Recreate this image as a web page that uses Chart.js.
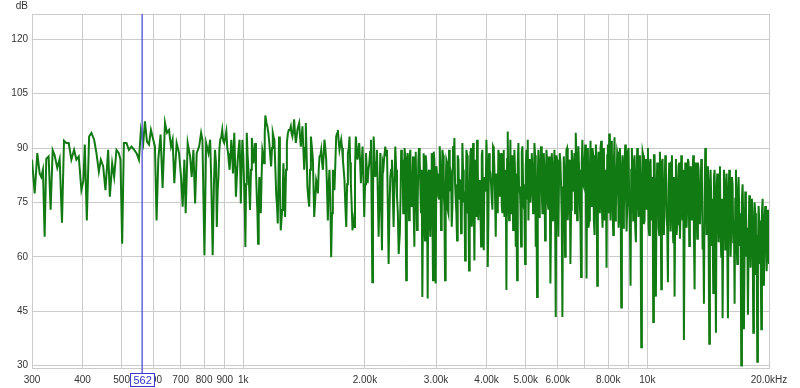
<!DOCTYPE html>
<html>
<head>
<meta charset="utf-8">
<script src="https://cdn.jsdelivr.net/npm/chart.js@4.4.1/dist/chart.umd.min.js"></script>
<style>
    html, body { margin: 0; padding: 0; background: #fff; }
    #wrap { width: 800px; height: 388px; }
</style>
</head>
<body>
<div id="wrap"><canvas id="spl" width="800" height="388"></canvas></div>
<script>
// Axis ticks
const xGrid = [300, 400, 500, 600, 700, 800, 900, 1000, 2000, 3000, 4000, 5000, 6000, 7000, 8000, 9000, 10000, 20000];
const xTickLabels = ['300', '400', '500', '600', '700', '800', '900', '1k', '2.00k', '3.00k', '4.00k', '5.00k', '6.00k', '', '8.00k', '', '10k', '20.0kHz'];
const yTicks = [30, 45, 60, 75, 90, 105, 120];
const cursorFreq = 562;

const freqA = [300, 304.6, 309.2, 313.4, 316.3, 319.3, 322.4, 325.4, 329.8, 333.6,
    337.5, 341.3, 346.5, 351.2, 355.9, 360, 364.8, 369.8, 375.4, 381.3,
    386.3, 391.6, 397.5, 402.1, 405.3, 410, 415.4, 420.9, 427.5, 433.1,
    439.1, 444.1, 450, 455.9, 463, 467.5, 473.7, 479.1, 485.4, 492.1,
    496.6, 501.5, 506.4, 514, 521.1, 528.9, 537.1, 544.3, 551.8, 558.1,
    565.5, 571, 577.6, 584.2, 590.9, 598.7, 604.5, 610.1, 616.1, 624.2,
    631.4, 640.1, 647.5, 654.9, 662.4, 668.5, 675, 684, 693.5, 701.4,
    707.9, 714.8, 720.1, 728.4, 738.5, 745.3, 752.6, 759.9, 766.9, 777.5,
    786.4, 792.3, 801.4, 809.2, 819.9, 828, 832.7];
const dbA = [86.8, 77.5, 88.6, 83, 82, 84, 65.5, 87, 87.7, 73,
    89.4, 88, 84.5, 87, 69.4, 92, 91.4, 91.4, 86.8, 89.5,
    86.8, 87.7, 78.4, 81, 91, 70, 93.2, 94.2, 92.3, 88.6,
    83.5, 86.8, 85, 78.4, 89.5, 76.6, 85.8, 82, 89.5, 88.6,
    86.8, 63.6, 91.4, 91.4, 89.5, 90.4, 89.5, 88.6, 86.8, 95,
    91.4, 97.4, 91.8, 91, 95, 92.3, 90.4, 70, 86.8, 93.7,
    79, 97, 94.2, 95, 90.4, 92.3, 80.3, 91.4, 88.6, 82,
    73.8, 86.8, 72, 91.4, 87.7, 82, 89.5, 74.7, 88.6, 90.4,
    94.2, 92.3, 60.4, 91.4, 88.6, 92.3, 82];

const freqB = [840, 851, 860, 868, 877, 887, 897, 908, 917, 925,
    934, 943, 950, 959, 969, 979, 986, 995, 1005, 1012,
    1020, 1030, 1039, 1050, 1059, 1070, 1080, 1088, 1096, 1105,
    1115, 1126, 1134, 1147, 1160, 1172, 1183, 1194, 1206, 1217,
    1226, 1238, 1248, 1257, 1269, 1282, 1296, 1311, 1323, 1336,
    1349, 1361, 1375, 1388, 1401, 1415, 1428, 1441, 1456, 1470,
    1487, 1498, 1515, 1530, 1544, 1559, 1574, 1588, 1604, 1619,
    1634, 1650, 1666, 1681, 1698, 1714, 1730, 1747, 1764, 1780,
    1798, 1815, 1832, 1846, 1863, 1881, 1899, 1917, 1936, 1955,
    1973, 1992, 2012, 2031, 2050, 2070, 2086, 2102, 2122, 2142,
    2162, 2183, 2204, 2224, 2246, 2268, 2289, 2311, 2333, 2355,
    2378, 2401, 2424];
const dbB = [60.4, 89.5, 68.2, 82, 92.3, 95, 91.4, 94.6, 88.6, 84,
    92.3, 83, 94.2, 76.6, 86.8, 92.3, 74.7, 92.3, 79.4, 62.7,
    94.2, 84, 72.9, 92.8, 85.8, 91.4, 76.6, 63.6, 82, 72,
    89.5, 85.8, 99, 96, 91.4, 84.9, 94.2, 92.3, 77.5, 69.2,
    93.2, 67.3, 72.9, 85.8, 71, 91.4, 95, 96, 93.2, 97.9,
    91.4, 95, 96.9, 90.4, 96, 84, 96.9, 79.4, 73.8, 93.2,
    86.8, 71, 81.2, 77.5, 87.7, 89.5, 84, 92.3, 86.8, 70,
    84, 59.9, 84, 78.4, 93.2, 95, 89.5, 92.3, 86.8, 81.2,
    68.2, 88.6, 93.2, 80.3, 67.3, 68.2, 93.2, 86.8, 91.4, 80.3,
    90.4, 71, 88.6, 80.3, 85.8, 92.3, 53, 93.2, 82, 89.5,
    65.5, 88.6, 61.8, 84.9, 90.4, 89.5, 58, 82, 86.8, 68.2,
    90.4, 76.6, 60.8];
// in-between readings of the same stretch
const freqB2 = [846, 856, 864, 873, 882, 892, 903, 913, 921, 930,
    939, 947, 955, 964, 974, 983, 991, 1000, 1009, 1016,
    1025, 1035, 1045, 1055, 1065, 1075, 1084, 1092, 1101, 1110,
    1121, 1130, 1141, 1154, 1166, 1178, 1189, 1200, 1212, 1222,
    1232, 1243, 1253, 1263, 1276, 1289, 1304, 1317, 1330, 1343,
    1355, 1368, 1382, 1395, 1408, 1422, 1435, 1449, 1463, 1479,
    1493, 1507, 1523, 1537, 1552, 1567, 1581, 1596, 1612, 1627,
    1642, 1658, 1674, 1690, 1706, 1722, 1739, 1756, 1772, 1789,
    1807, 1824, 1839, 1855, 1872, 1890, 1908, 1927, 1946, 1964,
    1983, 2002, 2022, 2041, 2060, 2078, 2094, 2112, 2132, 2152,
    2173, 2194, 2214, 2235, 2257, 2279, 2300, 2322, 2344, 2366,
    2390, 2413];
const dbB2 = [80, 86, 78, 90, 93, 92, 93, 90, 86, 88,
    88, 90, 85, 82, 90, 84, 86, 88, 72, 80,
    88, 78, 84, 90, 88, 84, 72, 76, 78, 82,
    88, 94, 97, 94, 88, 90, 93, 85, 74, 82,
    80, 70, 80, 78, 84, 94, 95, 94, 95, 94,
    93, 96, 93, 93, 90, 90, 88, 76, 84, 90,
    78, 76, 80, 84, 88, 86, 88, 90, 78, 80,
    76, 72, 82, 86, 94, 92, 91, 90, 84, 74,
    80, 90, 86, 74, 70, 84, 90, 89, 86, 86,
    82, 80, 84, 84, 89, 74, 76, 88, 86, 78,
    76, 74, 86, 88, 88, 74, 72, 84, 78, 80,
    84, 72];

const freqC = [2440, 2459, 2478, 2497, 2516, 2530, 2550,
    2572, 2591, 2611, 2631, 2651, 2671, 2691, 2712, 2732, 2753,
    2774, 2795, 2817, 2838, 2860, 2882, 2904, 2926, 2948, 2971,
    2993, 3016, 3039, 3063, 3086, 3110, 3133, 3157, 3181, 3206,
    3230, 3255, 3280, 3305, 3330, 3355, 3381, 3407, 3433, 3459,
    3485, 3512, 3539, 3566, 3593, 3620, 3648, 3676, 3704, 3732,
    3761, 3789, 3818, 3847, 3877, 3906, 3936, 3966, 3996, 4027,
    4057, 4088, 4120, 4151, 4183, 4215, 4247, 4279, 4312, 4345,
    4378, 4411, 4445, 4479, 4513, 4548, 4582, 4617, 4653, 4688,
    4724, 4760, 4796, 4833, 4870, 4907, 4944, 4982, 5020, 5058,
    5097, 5136, 5175, 5214, 5254, 5294, 5334, 5375, 5416, 5457,
    5499, 5541, 5583, 5626, 5668, 5712, 5755, 5799, 5843, 5888,
    5933, 5978, 6023, 6069, 6116, 6162, 6209, 6257, 6304, 6353,
    6401, 6450, 6499, 6549, 6599, 6649, 6700, 6751, 6802, 6854,
    6906, 6959];
const dbC = [66.5, 89.5, 86.8, 79.4, 87.7, 53.5, 88.6,
    70.1, 89.5, 77.5, 87.7, 62.8, 89, 67.4, 86.8, 87.7, 72,
    48.9, 88.6, 64.5, 85.8, 48.5, 84, 65.5, 88.6, 53.5, 86.8,
    52.6, 83, 76.6, 90.5, 67.4, 89.5, 77.5, 53.5, 86.8, 72.9,
    89.5, 84, 68.3, 90.5, 92.8, 75.8, 64.5, 86.8, 81.2, 66.5,
    91.4, 75, 59, 89.5, 72, 56.2, 88.6, 68.3, 91.4, 59,
    86.8, 92.3, 70.1, 81.2, 62.8, 89.5, 61.8, 79.4, 92.3, 57.2,
    88.6, 83, 75.8, 90.5, 84, 65.5, 79.4, 89.5, 76.6, 88.6,
    72, 89.5, 84, 50.8, 94.6, 70.1, 92.3, 79.4, 67.4, 89.5,
    62.8, 53.5, 91.4, 79.4, 62.8, 90.5, 73.8, 58, 89.5, 92.3,
    84, 75, 88.6, 72, 91.4, 62.8, 48.9, 89.5, 79.4, 90.5,
    72, 88.6, 64.5, 89.5, 75, 87.7, 52.6, 88.6, 70.1, 89.5,
    43.4, 86.8, 65.5, 88.6, 79.4, 43.4, 87.7, 60, 89.5, 70.1,
    86.8, 58, 89.5, 79.4, 88.6, 94.2, 70.1, 90.5, 75, 54.4,
    92.3, 79.4];
const freqC2 = [2450, 2469, 2488, 2507, 2523, 2540, 2561, 2582, 2601, 2621,
    2641, 2661, 2681, 2702, 2722, 2743, 2764, 2785, 2806, 2828,
    2849, 2871, 2893, 2915, 2937, 2960, 2982, 3005, 3028, 3051,
    3075, 3098, 3122, 3145, 3169, 3194, 3218, 3243, 3268, 3293,
    3318, 3343, 3368, 3394, 3420, 3446, 3472, 3499, 3526, 3553,
    3580, 3607, 3634, 3662, 3690, 3718, 3747, 3775, 3804, 3833,
    3862, 3892, 3921, 3951, 3981, 4012, 4042, 4073, 4104, 4136,
    4167, 4199, 4231, 4263, 4296, 4329, 4362, 4395, 4428, 4462,
    4496, 4531, 4565, 4600, 4635, 4671, 4706, 4742, 4778, 4815,
    4852, 4889, 4926, 4963, 5001, 5039, 5078, 5117, 5156, 5195,
    5234, 5274, 5314, 5355, 5396, 5437, 5478, 5520, 5562, 5605,
    5647, 5690, 5734, 5777, 5821, 5866, 5911, 5956, 6001, 6046,
    6093, 6139, 6186, 6233, 6281, 6329, 6377, 6426, 6475, 6524,
    6574, 6624, 6675, 6726, 6777, 6828, 6880, 6933];
const dbC2 = [76, 84, 72, 90, 70, 78, 82, 88, 74, 80,
    72, 86, 78, 75, 90, 79, 84, 73, 70, 88,
    76, 83, 70, 78, 74, 89, 72, 85, 80, 76,
    84, 71, 88, 74, 80, 86, 72, 78, 83, 74,
    86, 80, 72, 88, 76, 81, 70, 84, 78, 73,
    88, 74, 80, 90, 72, 77, 85, 71, 86, 79,
    74, 88, 72, 82, 78, 86, 70, 84, 80, 73,
    90, 76, 83, 72, 88, 78, 74, 86, 71, 82,
    87, 75, 80, 72, 88, 77, 83, 72, 86, 78,
    74, 89, 80, 73, 85, 76, 70, 87, 79, 84,
    73, 88, 76, 82, 71, 86, 78, 72, 84, 76,
    87, 73, 80, 70, 85, 77, 72, 88, 74, 82,
    86, 71, 78, 84, 72, 90, 76, 82, 73, 86,
    78, 72, 88, 76, 84, 70, 86, 80];

const freqD = [7017, 7071, 7125, 7179, 7234, 7289, 7345, 7401, 7457, 7514,
    7571, 7629, 7687, 7746, 7805, 7865, 7925, 7985, 8046, 8107,
    8169, 8232, 8294, 8358, 8422, 8486, 8551, 8616, 8682, 8748,
    8815, 8882, 8950, 9018, 9087, 9156, 9226, 9297, 9368, 9439,
    9511, 9584, 9657, 9731, 9805, 9880, 9955, 10031, 10108, 10185,
    10263, 10341, 10420, 10499, 10579, 10660, 10741, 10823, 10906, 10989,
    11073, 11157, 11242, 11328, 11415, 11502, 11590, 11678, 11767, 11857,
    11947, 12038, 12130, 12223, 12316, 12410, 12505, 12600, 12696, 12793,
    12891, 12989, 13088, 13188, 13289, 13390, 13492, 13595, 13699, 13803,
    13909, 14015, 14122, 14229, 14338, 14447, 14558, 14669, 14781, 14893,
    15007, 15122, 15237, 15353, 15470, 15588, 15707, 15827, 15948, 16069,
    16192, 16315, 16440, 16565, 16692, 16819, 16947, 17077, 17207, 17338,
    17471, 17604, 17738, 17874, 18010, 18147, 18286, 18425, 18566, 18707,
    18850, 18994, 19139, 19285, 19432, 19580, 19729, 19879, 20000];
const dbD = [91, 54, 90, 70, 92, 75, 88, 66, 91, 52,
    89, 72, 92, 68, 90, 74, 57, 91, 94, 70,
    90, 66, 93, 73, 89, 68, 90, 46, 88, 72,
    91, 67, 89, 75, 52, 90, 70, 88, 64, 90,
    71, 88, 35, 89, 69, 87, 73, 90, 66, 87,
    70, 42, 88, 49, 86, 68, 89, 51, 87, 66,
    88, 71, 53, 86, 67, 88, 64, 49, 87, 69,
    85, 65, 88, 70, 37, 86, 68, 87, 63, 85,
    70, 88, 51, 86, 65, 84, 69, 87, 62, 47,
    90, 66, 85, 36, 84, 63, 50, 84, 39, 83,
    64, 85, 60, 43, 84, 62, 83, 43, 84, 60,
    82, 64, 47, 84, 58, 82, 63, 30, 80, 40,
    78, 60, 44, 77, 57, 76, 39, 75, 55, 31,
    74, 58, 40, 76, 52, 74, 56, 73, 58];
const freqD2 = [7044, 7098, 7152, 7206, 7261, 7317, 7373, 7429, 7485, 7542,
    7600, 7658, 7716, 7775, 7835, 7895, 7955, 8015, 8076, 8138,
    8200, 8263, 8326, 8390, 8454, 8518, 8583, 8649, 8715, 8781,
    8848, 8916, 8984, 9052, 9121, 9191, 9261, 9332, 9403, 9475,
    9547, 9620, 9694, 9768, 9842, 9917, 9993, 10069, 10146, 10224,
    10302, 10380, 10459, 10539, 10619, 10700, 10782, 10864, 10947, 11031,
    11115, 11199, 11285, 11371, 11458, 11546, 11634, 11722, 11812, 11902,
    11992, 12084, 12176, 12269, 12363, 12457, 12552, 12648, 12744, 12842,
    12940, 13038, 13138, 13238, 13339, 13441, 13543, 13647, 13751, 13856,
    13962, 14068, 14175, 14283, 14392, 14502, 14613, 14725, 14837, 14950,
    15064, 15179, 15295, 15411, 15529, 15647, 15767, 15887, 16008, 16130,
    16253, 16377, 16502, 16628, 16755, 16883, 17012, 17142, 17272, 17404,
    17537, 17671, 17806, 17942, 18078, 18216, 18355, 18495, 18636, 18778,
    18922, 19066, 19212, 19358, 19506, 19654, 19804, 19940];
const dbD2 = [78, 88, 68, 84, 74, 90, 70, 80, 86, 72,
    82, 90, 74, 86, 70, 84, 88, 72, 80, 92,
    74, 86, 70, 82, 88, 72, 84, 78, 68, 86,
    80, 74, 90, 70, 84, 78, 86, 68, 82, 76,
    86, 72, 80, 88, 70, 84, 76, 68, 86, 74,
    82, 88, 70, 78, 84, 66, 80, 86, 72, 78,
    84, 68, 80, 76, 86, 70, 82, 74, 66, 80,
    86, 72, 78, 84, 68, 80, 74, 86, 70, 78,
    84, 66, 80, 72, 86, 70, 78, 82, 68, 76,
    84, 72, 66, 80, 76, 70, 82, 68, 78, 74,
    82, 66, 76, 70, 80, 72, 64, 78, 74, 68,
    80, 70, 76, 64, 78, 72, 66, 76, 70, 62,
    74, 68, 64, 72, 66, 70, 60, 72, 66, 62,
    70, 64, 72, 60, 70, 66, 62, 68];

const freqs = freqA.concat(freqB, freqB2, freqC, freqC2, freqD, freqD2);
const levels = dbA.concat(dbB, dbB2, dbC, dbC2, dbD, dbD2);
const points = freqs.map((f, i) => ({ x: f, y: levels[i] })).sort((a, b) => a.x - b.x);

Chart.defaults.font.family = '"Liberation Sans", Arial, sans-serif';
Chart.defaults.font.size = 10;
Chart.defaults.color = '#333';

const gridColor = '#cbcbcb';

// frame, "dB" caption, cursor line with its value box
const decorations = {
    id: 'decorations',
    beforeDatasetsDraw(chart) {
        const { ctx, chartArea: a } = chart;
        ctx.save();
        ctx.strokeStyle = gridColor;
        ctx.lineWidth = 1;
        ctx.strokeRect(a.left + 0.5, a.top + 0.5, a.right - a.left, a.bottom - a.top);
        ctx.restore();
    },
    afterDraw(chart) {
        const { ctx, chartArea: a } = chart;
        const x = chart.scales.x.getPixelForValue(cursorFreq);
        ctx.save();
        ctx.fillStyle = '#333';
        ctx.font = '10px "Liberation Sans", Arial, sans-serif';
        ctx.textAlign = 'right';
        ctx.textBaseline = 'middle';
        ctx.fillText('dB', 28, 6);

        ctx.strokeStyle = '#6464d8';
        ctx.lineWidth = 1.5;
        ctx.beginPath();
        ctx.moveTo(x, a.top);
        ctx.lineTo(x, 374);
        ctx.stroke();

        ctx.fillStyle = '#fff';
        ctx.fillRect(x - 12, 373.5, 24, 13);
        ctx.strokeStyle = '#3a3ad0';
        ctx.lineWidth = 1;
        ctx.strokeRect(Math.round(x - 12) + 0.5, 373.5, 24, 13);
        ctx.fillStyle = '#3030c8';
        ctx.font = '11px "Liberation Sans", Arial, sans-serif';
        ctx.textAlign = 'center';
        ctx.fillText(String(cursorFreq), x + 0.5, 380.5);
        ctx.restore();
    }
};

const chart = new Chart(document.getElementById('spl').getContext('2d'), {
    type: 'line',
    data: {
        datasets: [{
            data: points,
            borderColor: 'rgb(18,122,18)',
            borderWidth: 2,
            pointRadius: 0,
            tension: 0,
            fill: false
        }]
    },
    options: {
        responsive: false,
        animation: false,
        events: [],
        layout: { padding: { top: 14, right: 31, left: 0, bottom: 0 } },
        plugins: { legend: { display: false }, tooltip: { enabled: false } },
        scales: {
            x: {
                type: 'logarithmic',
                min: 300,
                max: 20000,
                afterFit(scale) { scale.height = 20; },
                afterBuildTicks(scale) { scale.ticks = xGrid.map(v => ({ value: v })); },
                grid: { color: gridColor, drawTicks: false },
                border: { display: false },
                ticks: {
                    autoSkip: false,
                    maxRotation: 0,
                    padding: 6,
                    callback: function (value) {
                        const i = xGrid.indexOf(value);
                        return i >= 0 ? xTickLabels[i] : '';
                    }
                }
            },
            y: {
                min: 29.3,
                max: 127,
                afterFit(scale) { scale.width = 32; },
                afterBuildTicks(scale) { scale.ticks = yTicks.map(v => ({ value: v })); },
                grid: { color: gridColor, drawTicks: false },
                border: { display: false },
                ticks: { padding: 4 }
            }
        }
    },
    plugins: [decorations]
});
</script>
</body>
</html>
